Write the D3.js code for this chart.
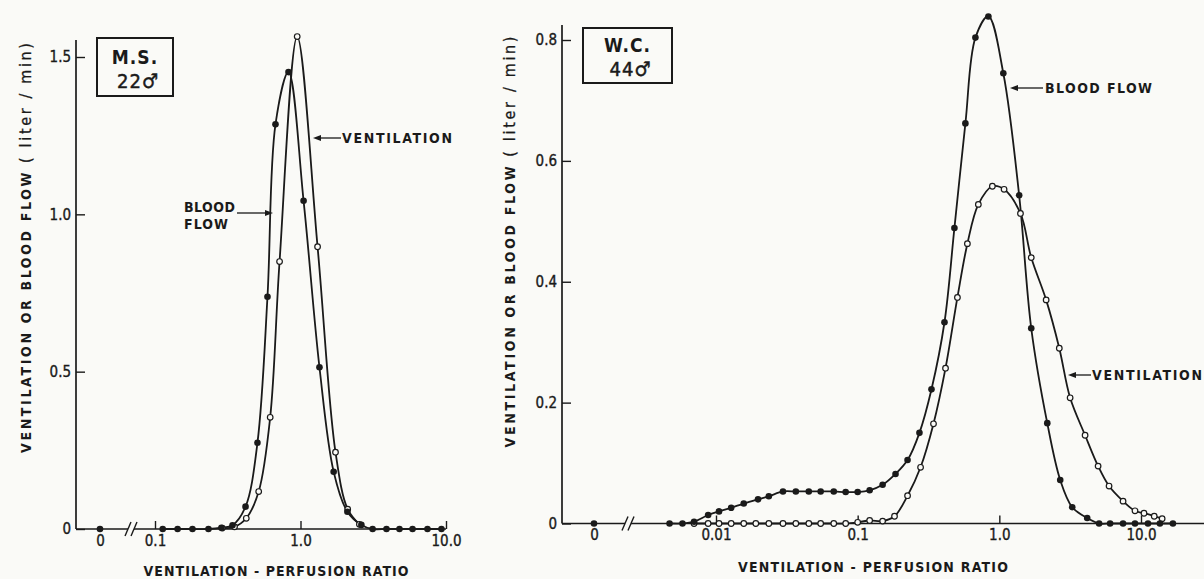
<!DOCTYPE html>
<html><head><meta charset="utf-8">
<script src="https://cdn.jsdelivr.net/npm/d3@7"></script>
<style>
html,body{margin:0;padding:0;background:#fafaf7;}
svg{display:block;}
text{font-family:"DejaVu Sans Condensed","DejaVu Sans",sans-serif;fill:#1a1a1a;}
</style></head><body><svg id="c" width="1204" height="579"></svg>
<script>
// ---------- data ----------
const zeroCategory = ["0"];

// Left panel (M.S. 22)
const leftXTicks = [0.1, 1, 10];
const leftXTickLabels = ["0.1", "1.0", "10.0"];
const leftYTicks = [0, 0.5, 1.0, 1.5];
const leftYTickLabels = ["0", "0.5", "1.0", "1.5"];
const leftZeroBlood = [0];
const leftBloodRatio = [0.113,0.143,0.181,0.233,0.286,0.341,0.419,0.506,0.593,0.673,0.827,1.05,1.35,1.69,2.10,2.62,3.13,3.90,4.79,5.89,7.46,9.31];
const leftBlood      = [0,0,0,0,0.004,0.012,0.071,0.274,0.738,1.286,1.452,1.043,0.514,0.182,0.055,0.013,0,0,0,0,0,0];
const leftVentRatio  = [0.290,0.352,0.424,0.516,0.619,0.718,0.949,1.31,1.74,2.11,2.54];
const leftVent       = [0.003,0.007,0.034,0.119,0.355,0.850,1.565,0.897,0.244,0.063,0.015];

// Right panel (W.C. 44)
const rightXTicks = [0.01, 0.1, 1, 10];
const rightXTickLabels = ["0.01", "0.1", "1.0", "10.0"];
const rightYTicks = [0, 0.2, 0.4, 0.6, 0.8];
const rightYTickLabels = ["0", "0.2", "0.4", "0.6", "0.8"];
const rightZeroBlood = [0];
const rightBloodRatio = [0.0047,0.0058,0.0070,0.0088,0.0105,0.0128,0.0157,0.0198,0.0236,0.0297,0.0366,0.0452,0.0548,0.0678,0.0823,0.100,0.1215,0.150,0.185,0.225,0.273,0.332,0.410,0.482,0.576,0.678,0.837,1.067,1.38,1.68,2.18,2.69,3.27,4.17,5.06,6.05,7.47,9.07,11.2,13.6,16.8];
const rightBlood      = [0,0,0.003,0.014,0.020,0.026,0.033,0.040,0.045,0.053,0.053,0.053,0.053,0.053,0.052,0.052,0.055,0.064,0.082,0.105,0.150,0.222,0.333,0.489,0.662,0.804,0.839,0.745,0.543,0.323,0.166,0.072,0.027,0.009,0,0,0,0,0,0,0];
const rightVentRatio  = [0.0070,0.0088,0.0105,0.0128,0.0157,0.0191,0.0236,0.0297,0.0366,0.0452,0.0548,0.0678,0.0823,0.100,0.1215,0.150,0.182,0.225,0.278,0.343,0.417,0.506,0.595,0.711,0.893,1.08,1.41,1.68,2.14,2.65,3.16,4.03,4.98,5.95,7.47,9.07,10.5,12.4,14.1];
const rightVent       = [0,0,0,0,0,0,0,0,0,0,0,0,0,0.002,0.005,0.004,0.012,0.046,0.093,0.165,0.257,0.374,0.463,0.528,0.558,0.553,0.513,0.440,0.370,0.29,0.208,0.146,0.095,0.062,0.037,0.021,0.017,0.012,0.008];

const xTitle = "VENTILATION - PERFUSION RATIO";
const yTitleMain = "VENTILATION OR BLOOD FLOW ";
const yTitleUnit = "( liter / min)";

// ---------- drawing ----------
const svg = d3.select("#c");
const INK = "#1a1a1a", BG = "#fafaf7";
const FONT = '"DejaVu Sans Condensed","DejaVu Sans",sans-serif';
svg.append("rect").attr("width",1204).attr("height",579).attr("fill",BG);

function zip(a,b){ return a.map((r,i)=>({r:r, v:b[i]})); }

function arrow(g, x1, x2, y){ // tip at x1
  const dir = x2 > x1 ? 1 : -1;
  g.append("line").attr("x1",x1+dir*5).attr("x2",x2).attr("y1",y).attr("y2",y)
    .attr("stroke",INK).attr("stroke-width",1.3);
  g.append("path").attr("d",`M${x1},${y}L${x1+dir*8},${y-3}L${x1+dir*8},${y+3}Z`).attr("fill",INK);
}

function styleTickText(sel){
  sel.attr("font-size",15).attr("fill",INK).attr("font-family",FONT)
    .attr("stroke",INK).attr("stroke-width",0.35);
}

function panel(c){
  const g = svg.append("g");
  const x = d3.scaleLog().domain(c.xDomain).range(c.xRange);
  const y = d3.scaleLinear().domain(c.yDomain).range(c.yRange);
  const xz = d3.scalePoint().domain(zeroCategory).range([c.zeroX-10, c.zeroX+10]);
  const y0 = y(0);

  // axes lines
  g.append("line").attr("x1",c.axisX).attr("x2",c.axisX).attr("y1",y0).attr("y2",c.axisTop)
    .attr("stroke",INK).attr("stroke-width",1.7);
  g.append("line").attr("x1",c.axisX).attr("x2",c.breakX-3).attr("y1",y0).attr("y2",y0)
    .attr("stroke",INK).attr("stroke-width",1.7);
  g.append("line").attr("x1",c.breakX+3).attr("x2",c.xEnd).attr("y1",y0).attr("y2",y0)
    .attr("stroke",INK).attr("stroke-width",1.7);
  [-3,3].forEach(o=>{
    g.append("line").attr("x1",c.breakX+o-3).attr("y1",y0+7).attr("x2",c.breakX+o+3).attr("y2",y0-7)
      .attr("stroke",INK).attr("stroke-width",1.4);
  });

  // y axis
  const ya = g.append("g").attr("transform",`translate(${c.axisX},0)`)
    .call(d3.axisLeft(y).tickValues(c.yTicks).tickFormat((d,i)=>c.yLabels[i])
      .tickSizeInner(-9).tickSizeOuter(0).tickPadding(5));
  ya.select(".domain").remove();
  ya.selectAll("line").attr("stroke",INK).attr("stroke-width",1.4);
  styleTickText(ya.selectAll("text"));

  // x axis
  const xa = g.append("g").attr("transform",`translate(0,${y0})`)
    .call(d3.axisBottom(x).tickValues(c.xTicks).tickFormat((d,i)=>c.xLabels[i])
      .tickSizeInner(-8).tickSizeOuter(0).tickPadding(6));
  xa.select(".domain").remove();
  xa.selectAll("line").attr("stroke",INK).attr("stroke-width",1.4);
  styleTickText(xa.selectAll("text"));
  const xza = g.append("g").attr("transform",`translate(0,${y0})`)
    .call(d3.axisBottom(xz).tickSize(0).tickPadding(6));
  xza.select(".domain").remove();
  styleTickText(xza.selectAll("text"));

  // titles
  g.append("text").attr("x",c.xTitleX).attr("y",c.xTitleY).attr("text-anchor","middle")
    .attr("font-size",14).attr("font-weight","bold")
    .attr("textLength",c.xTitleLen).attr("lengthAdjust","spacing").text(xTitle);
  const yt = g.append("text").attr("transform",`translate(${c.yTitleX},${c.yTitleY}) rotate(-90)`)
    .attr("text-anchor","middle").attr("font-size",14)
    .attr("textLength",c.yTitleLen).attr("lengthAdjust","spacing");
  yt.append("tspan").attr("font-weight","bold").text(yTitleMain);
  yt.append("tspan").attr("font-size",16).attr("stroke",INK).attr("stroke-width",0.3).text(yTitleUnit);

  // box
  g.append("rect").attr("x",c.box[0]).attr("y",c.box[1]).attr("width",c.box[2]).attr("height",c.box[3])
    .attr("fill","none").attr("stroke",INK).attr("stroke-width",2);
  g.append("text").attr("x",c.box[0]+c.box[2]/2).attr("y",c.box[1]+c.box[3]*0.44).attr("text-anchor","middle")
    .attr("font-size",19).attr("font-weight","bold").attr("letter-spacing",1).text(c.boxLine1);
  g.append("text").attr("x",c.box[0]+c.box[2]/2+3).attr("y",c.box[1]+c.box[3]*0.87).attr("text-anchor","middle")
    .attr("font-size",20).attr("letter-spacing",1).attr("stroke",INK).attr("stroke-width",0.5).text(c.boxLine2);

  // curves
  const line = d3.line().x(d=>x(d.r)).y(d=>y(d.v)).curve(d3.curveCatmullRom.alpha(0.5));
  const blood = zip(c.bloodR, c.bloodV), vent = zip(c.ventR, c.ventV);
  g.append("path").attr("d",line(vent)).attr("fill","none").attr("stroke",INK).attr("stroke-width",1.8);
  g.append("path").attr("d",line(blood)).attr("fill","none").attr("stroke",INK).attr("stroke-width",1.8);
  g.selectAll(".vm").data(vent).join("circle").attr("cx",d=>x(d.r)).attr("cy",d=>y(d.v)).attr("r",2.8)
    .attr("fill",BG).attr("stroke",INK).attr("stroke-width",1.2);
  g.selectAll(".bm").data(blood).join("circle").attr("cx",d=>x(d.r)).attr("cy",d=>y(d.v)).attr("r",3.3)
    .attr("fill",INK);
  g.selectAll(".zm").data(c.zeroV).join("circle").attr("cx",()=>xz("0")).attr("cy",d=>y(d)).attr("r",3.3)
    .attr("fill",INK);

  // annotations
  c.notes.forEach(n=>{
    arrow(g, n.tip, n.tail, n.y);
    n.lines.forEach((t,i)=>{
      g.append("text").attr("x",n.tx).attr("y",n.ty + i*n.lh).attr("font-size",14).attr("font-weight","bold")
        .attr("textLength",n.len[i]).attr("lengthAdjust","spacing").text(t);
    });
  });
}

panel({
  xDomain:[0.1,10], xRange:[155,446], yDomain:[0,1.5], yRange:[529,57],
  axisX:76, axisTop:40, breakX:131, xEnd:446, zeroX:100,
  xTicks:leftXTicks, xLabels:leftXTickLabels, yTicks:leftYTicks, yLabels:leftYTickLabels,
  xTitleX:276, xTitleY:576, xTitleLen:265,
  yTitleX:31, yTitleY:248, yTitleLen:410,
  box:[97,38,76,58], boxLine1:"M.S.", boxLine2:"22\u2642",
  bloodR:leftBloodRatio, bloodV:leftBlood, ventR:leftVentRatio, ventV:leftVent, zeroV:leftZeroBlood,
  notes:[
    {tip:313, tail:341, y:138, lines:["VENTILATION"], tx:342, ty:143, lh:0, len:[110]},
    {tip:273, tail:237, y:213, lines:["BLOOD","FLOW"], tx:184, ty:212, lh:17, len:[51,44]}
  ]
});

panel({
  xDomain:[0.01,10], xRange:[716,1141], yDomain:[0,0.8], yRange:[523.5,40],
  axisX:562, axisTop:25, breakX:628, xEnd:1204, zeroX:594,
  xTicks:rightXTicks, xLabels:rightXTickLabels, yTicks:rightYTicks, yLabels:rightYTickLabels,
  xTitleX:873, xTitleY:572, xTitleLen:270,
  yTitleX:515, yTitleY:242, yTitleLen:411,
  box:[583,28,89,55], boxLine1:"W.C.", boxLine2:"44\u2642",
  bloodR:rightBloodRatio, bloodV:rightBlood, ventR:rightVentRatio, ventV:rightVent, zeroV:rightZeroBlood,
  notes:[
    {tip:1010, tail:1043, y:88, lines:["BLOOD FLOW"], tx:1045, ty:93, lh:0, len:[107]},
    {tip:1068, tail:1091, y:375, lines:["VENTILATION"], tx:1092, ty:380, lh:0, len:[110]}
  ]
});
</script></body></html>
